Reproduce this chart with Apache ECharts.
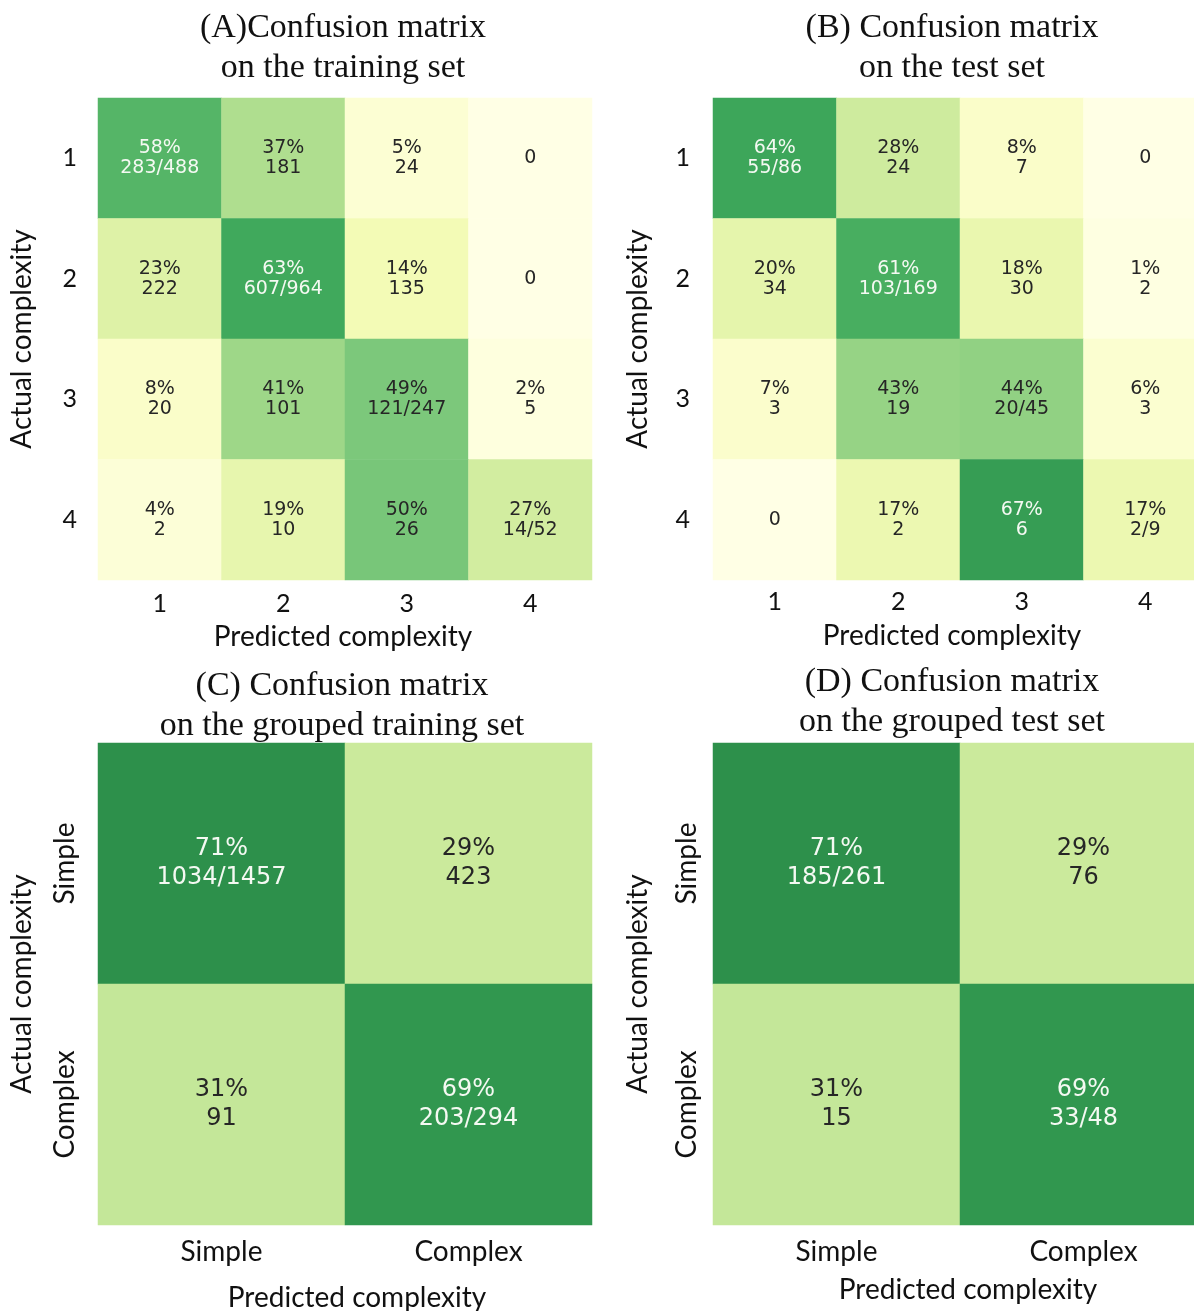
<!DOCTYPE html>
<html>
<head>
<meta charset="utf-8">
<script src="https://cdn.jsdelivr.net/npm/echarts@6/dist/echarts.min.js"></script>
<style>
  html, body { margin: 0; padding: 0; background: #fff; }
  #chart { width: 1194px; height: 1311px; }
</style>
</head>
<body>
<div id="chart"></div>
<script>
// 类别
const levels = ['1', '2', '3', '4'];
const groups = ['Simple', 'Complex'];

// 百分比 (行 = 实际, 列 = 预测)
const trainPct = [[58, 37, 5, 0], [23, 63, 14, 0], [8, 41, 49, 2], [4, 19, 50, 27]];
const trainCounts = [['283/488', '181', '24', '0'], ['222', '607/964', '135', '0'],
                     ['20', '101', '121/247', '5'], ['2', '10', '26', '14/52']];
const testPct = [[64, 28, 8, 0], [20, 61, 18, 1], [7, 43, 44, 6], [0, 17, 67, 17]];
const testCounts = [['55/86', '24', '7', '0'], ['34', '103/169', '30', '2'],
                    ['3', '19', '20/45', '3'], ['0', '2', '6', '2/9']];
const groupTrainPct = [[71, 29], [31, 69]];
const groupTrainCounts = [['1034/1457', '423'], ['91', '203/294']];
const groupTestPct = [[71, 29], [31, 69]];
const groupTestCounts = [['185/261', '76'], ['15', '33/48']];

const YlGn = ['#ffffe5', '#f7fcb9', '#d9f0a3', '#addd8e', '#78c679', '#41ab5d', '#238443', '#006837', '#004529'];
const sans = 'Lato';
const cellFont = 'DejaVu Sans';

const panels = [
    { title: '(A)Confusion matrix\non the training set', tx: 343, ty: 28, cats: levels, pct: trainPct, counts: trainCounts,
      left: 98, top: 98, yMargin: 21, xMargin: 11, yGap: 62, xGap: 43, namePad: [0, 4, 0, 0], big: false },
    { title: '(B) Confusion matrix\non the test set', tx: 952, ty: 28, cats: levels, pct: testPct, counts: testCounts,
      left: 713, top: 98, yMargin: 23, xMargin: 9, yGap: 61, xGap: 42, namePad: [0, 16, 0, 0], big: false },
    { title: '(C) Confusion matrix\non the grouped training set', tx: 342, ty: 686, cats: groups, pct: groupTrainPct, counts: groupTrainCounts,
      left: 98, top: 743, yMargin: 19, xMargin: 13, yGap: 62, xGap: 59, namePad: [0, 0, 0, 24], big: true },
    { title: '(D) Confusion matrix\non the grouped test set', tx: 952, ty: 682, cats: groups, pct: groupTestPct, counts: groupTestCounts,
      left: 713, top: 743, yMargin: 12, xMargin: 13, yGap: 61, xGap: 51, namePad: [0, 0, 0, 16], big: true }
];

const chart = echarts.init(document.getElementById('chart'));

const option = {
    animation: false,
    backgroundColor: '#fff',
    graphic: panels.map((p) => ({
        type: 'text',
        x: p.tx,
        y: p.ty - 20,
        style: {
            text: p.title,
            textAlign: 'center',
            textVerticalAlign: 'top',
            font: '34px "Liberation Serif"',
            lineHeight: 40,
            fill: '#111'
        }
    })),
    grid: panels.map((p) => ({ left: p.left, top: p.top, width: 494, height: 482, outerBoundsMode: 'none' })),
    xAxis: panels.map((p, i) => ({
        type: 'category',
        gridIndex: i,
        data: p.cats,
        name: 'Predicted complexity',
        nameLocation: 'middle',
        nameGap: p.xGap,
        nameTextStyle: { fontFamily: sans, fontSize: 28, color: '#111', padding: p.namePad },
        axisLine: { show: false },
        axisTick: { show: false },
        splitLine: { show: false },
        axisLabel: { fontFamily: sans, fontSize: p.big ? 28 : 25, color: '#111', margin: p.xMargin }
    })),
    yAxis: panels.map((p, i) => ({
        type: 'category',
        gridIndex: i,
        data: p.cats,
        inverse: true,
        name: 'Actual complexity',
        nameLocation: 'middle',
        nameGap: p.yGap,
        nameTextStyle: { fontFamily: sans, fontSize: 28, color: '#111' },
        axisLine: { show: false },
        axisTick: { show: false },
        splitLine: { show: false },
        axisLabel: { fontFamily: sans, fontSize: p.big ? 28 : 25, color: '#111', margin: p.yMargin, rotate: p.big ? 90 : 0 }
    })),
    visualMap: {
        show: false,
        type: 'continuous',
        min: 0,
        max: 100,
        seriesIndex: [0, 1, 2, 3],
        inRange: { color: YlGn }
    },
    series: panels.map((p, i) => {
        const data = [];
        p.pct.forEach((row, y) => {
            row.forEach((v, x) => {
                data.push({
                    value: [x, y, v],
                    label: { color: v >= 55 ? '#f4f9f2' : '#262626' }
                });
            });
        });
        return {
            type: 'heatmap',
            xAxisIndex: i,
            yAxisIndex: i,
            data: data,
            itemStyle: { borderWidth: 0 },
            emphasis: { disabled: true },
            label: {
                show: true,
                fontFamily: cellFont,
                fontSize: p.big ? 24 : 19,
                lineHeight: p.big ? 29 : 20,
                formatter: (params) => {
                    const [x, y, v] = params.value;
                    return v === 0 ? '0' : v + '%\n' + p.counts[y][x];
                }
            }
        };
    })
};

chart.setOption(option);
</script>
</body>
</html>
